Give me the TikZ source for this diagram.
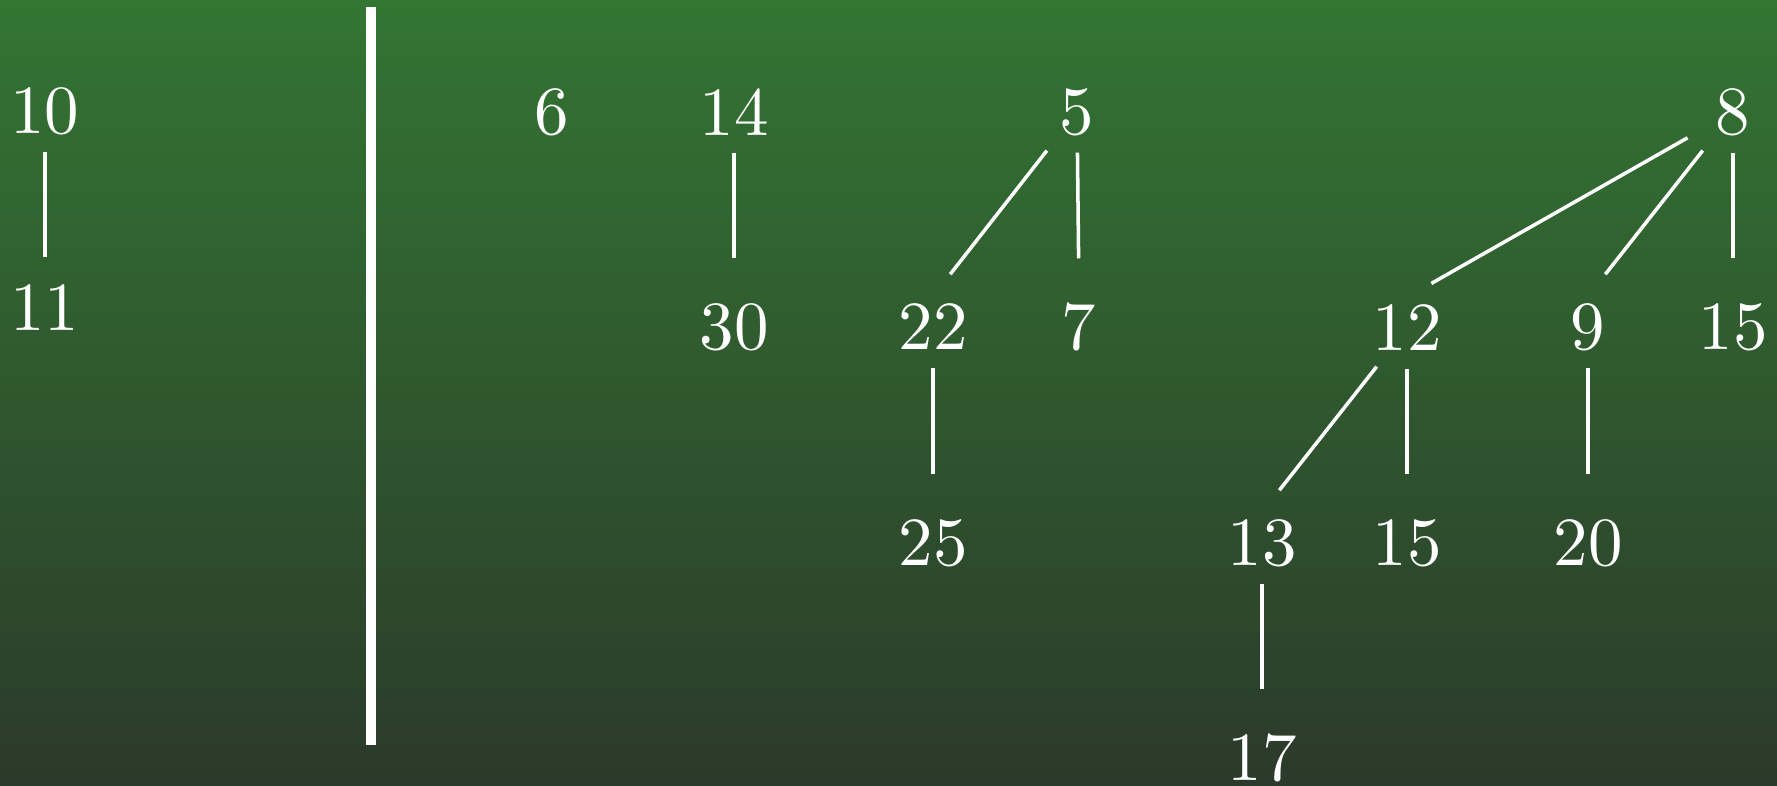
\documentclass[tikz,border=0pt]{standalone}
\usepackage{xcolor}
\usepackage{graphicx}
\definecolor{bgtop}{RGB}{51,117,51}
\definecolor{bgbot}{RGB}{43,58,42}
\newcommand{\key}[1]{\scalebox{1.96}{#1}}

\begin{document}
\begin{tikzpicture}[x=0.01cm, y=-0.01cm, every node/.style={font=\normalsize, text=white}, num/.style={inner sep=0pt, minimum width=7.2mm, minimum height=6mm}, edge/.style={draw=white, line width=1pt, shorten <=1mm, shorten >=3.8mm}, diag/.style={edge, shorten >=2.8mm}, bar/.style={draw=white, line width=2.6pt}]
\shade[top color=bgtop, bottom color=bgbot] (0,0) rectangle (1777,785);
\useasboundingbox (0,0) rectangle (1777,785);
% left part
\node[num] (n10) at (45,111) {\key{10}};
\node[num] (n11) at (45,308) {\key{11}};
\draw[edge, shorten >=2mm] (n10) -- (n11.north);
\draw[bar] (371,7) -- (371,745);
% forest
\node[num] (n6) at (552,112) {\key{6}};
\node[num] (n14) at (734,112) {\key{14}};
\node[num] (n30) at (734,327) {\key{30}};
\node[num] (n5) at (1077,112) {\key{5}};
\node[num] (n22) at (933,327) {\key{22}};
\node[num] (n7) at (1079,327) {\key{7}};
\node[num] (n25) at (933,543) {\key{25}};
\node[num] (n8) at (1733,112) {\key{8}};
\node[num] (n12) at (1407,328) {\key{12}};
\node[num] (n9) at (1588,327) {\key{9}};
\node[num] (n15a) at (1733,327) {\key{15}};
\node[num] (n13) at (1262,543) {\key{13}};
\node[num] (n15b) at (1407,543) {\key{15}};
\node[num] (n20) at (1588,543) {\key{20}};
\node[num] (n17) at (1262,758) {\key{17}};
\draw[edge] (n14) -- (n30.north);
\draw[diag] (n5) -- (n22.north);
\draw[edge] (n5) -- (n7.north);
\draw[edge] (n22) -- (n25.north);
\draw[diag] (n8) -- (n12.north);
\draw[diag] (n8) -- (n9.north);
\draw[edge] (n8) -- (n15a.north);
\draw[diag] (n12) -- (n13.north);
\draw[edge] (n12) -- (n15b.north);
\draw[edge] (n9) -- (n20.north);
\draw[edge] (n13) -- (n17.north);
\end{tikzpicture}
\end{document}
